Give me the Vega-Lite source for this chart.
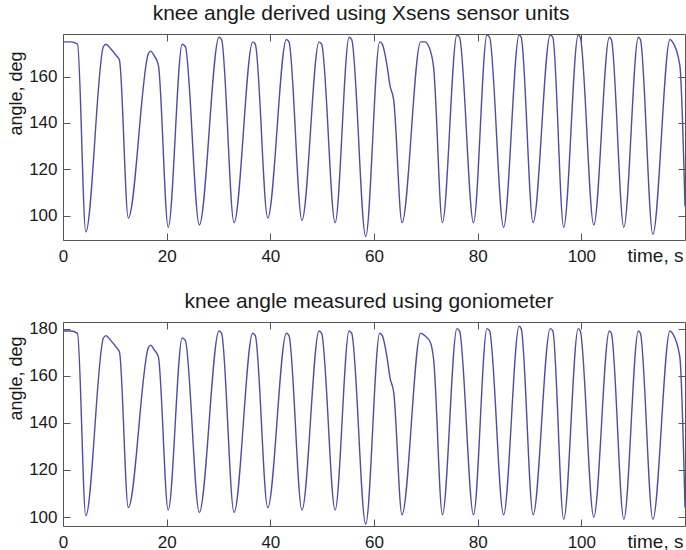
{
  "$schema": "https://vega.github.io/schema/vega-lite/v6.json",
  "background": "white",
  "padding": {"left": 6, "top": 2, "right": 0, "bottom": 0},
  "datasets": {
    "knee": [
      {"t":0,"a":175,"g":179},{"t":1.5,"a":175,"g":179},{"t":2.8,"a":174,"g":178},
      {"t":4.4,"a":93,"g":100.5},
      {"t":7.8,"a":173,"g":176},{"t":8.3,"a":174,"g":177},{"t":9.2,"a":172,"g":175},{"t":10.3,"a":169,"g":172},{"t":10.9,"a":167,"g":170},
      {"t":12.6,"a":99,"g":104},
      {"t":16.5,"a":170,"g":172},{"t":16.9,"a":171,"g":173},{"t":17.6,"a":169,"g":171},{"t":18.4,"a":165,"g":168},
      {"t":20.3,"a":95,"g":103},
      {"t":23.0,"a":174,"g":176},{"t":23.6,"a":173,"g":175},
      {"t":26.3,"a":96,"g":102},
      {"t":30.1,"a":177,"g":179},{"t":30.6,"a":176,"g":178},
      {"t":33.0,"a":97,"g":102},
      {"t":36.6,"a":175,"g":178},{"t":37.1,"a":174,"g":177},
      {"t":39.5,"a":99,"g":104},
      {"t":43.1,"a":176,"g":178},{"t":43.6,"a":175,"g":177},
      {"t":46.1,"a":98,"g":103},
      {"t":49.4,"a":175,"g":179},{"t":49.9,"a":174,"g":178},
      {"t":52.5,"a":97,"g":103},
      {"t":55.2,"a":177,"g":179},{"t":55.7,"a":176,"g":178},
      {"t":58.4,"a":91,"g":97},
      {"t":61.1,"a":175,"g":178},{"t":61.6,"a":174,"g":177},{"t":62.5,"a":165,"g":168},{"t":63.1,"a":156,"g":159},{"t":63.8,"a":150,"g":153},
      {"t":65.4,"a":97,"g":101},
      {"t":69.0,"a":175,"g":178},{"t":69.8,"a":175,"g":177},{"t":70.9,"a":171,"g":174},{"t":71.5,"a":164,"g":167},
      {"t":73.2,"a":97,"g":101},
      {"t":76.0,"a":178,"g":180},{"t":76.5,"a":177,"g":179},
      {"t":79.2,"a":97,"g":101},
      {"t":81.8,"a":178,"g":180},{"t":82.3,"a":177,"g":179},
      {"t":85.0,"a":95,"g":101},
      {"t":88.0,"a":178,"g":181},{"t":88.4,"a":177,"g":180},
      {"t":90.7,"a":97,"g":101},
      {"t":94.0,"a":178,"g":180},{"t":94.5,"a":177,"g":179},
      {"t":96.6,"a":95,"g":99},
      {"t":99.4,"a":178,"g":180},{"t":99.8,"a":177,"g":179},
      {"t":102.4,"a":96,"g":100},
      {"t":105.4,"a":177,"g":179},{"t":105.8,"a":176,"g":178},
      {"t":108.2,"a":95,"g":99},
      {"t":111.0,"a":177,"g":179},{"t":111.4,"a":176,"g":178},
      {"t":113.8,"a":92,"g":99},
      {"t":117.1,"a":176,"g":179},{"t":117.6,"a":175,"g":178},{"t":119.0,"a":165,"g":168},
      {"t":120,"a":104,"g":104}
    ]
  },
  "data": {"name": "knee"},
  "spacing": 24,
  "vconcat": [
    {
      "width": 622,
      "height": 206,
      "title": {"text": "knee angle derived using Xsens sensor units", "dx": -13},
      "layer": [
        {
          "mark": {"type": "line", "color": "#4d4da8", "strokeWidth": 1.4, "interpolate": "monotone"},
          "encoding": {
            "x": {"field": "t", "type": "quantitative", "scale": {"domain": [0, 120], "nice": false, "zero": false},
                  "axis": {"orient": "bottom", "values": [0, 20, 40, 60, 80, 100], "title": "time, s", "titleX": 620, "titleY": 21, "titleAlign": "right", "titleBaseline": "alphabetic", "titleFontSize": 19}},
            "y": {"field": "a", "type": "quantitative", "scale": {"domain": [89.5, 178.4], "nice": false, "zero": false},
                  "axis": {"orient": "left", "values": [100, 120, 140, 160], "title": "angle, deg", "titleX": -42, "titleY": 59, "titleAlign": "center", "titleBaseline": "alphabetic", "titleFontSize": 18}}
          }
        },
        {
          "mark": {"type": "line", "opacity": 0},
          "encoding": {
            "x": {"field": "t", "type": "quantitative", "scale": {"domain": [0, 120], "nice": false, "zero": false},
                  "axis": {"orient": "top", "values": [0, 20, 40, 60, 80, 100], "labels": false, "title": null}},
            "y": {"field": "a", "type": "quantitative", "scale": {"domain": [89.5, 178.4], "nice": false, "zero": false},
                  "axis": {"orient": "right", "values": [100, 120, 140, 160], "labels": false, "title": null}}
          }
        }
      ],
      "resolve": {"axis": {"x": "independent", "y": "independent"}}
    },
    {
      "width": 622,
      "height": 204,
      "title": {"text": "knee angle measured using goniometer", "dx": -5},
      "layer": [
        {
          "mark": {"type": "line", "color": "#4d4da8", "strokeWidth": 1.4, "interpolate": "monotone"},
          "encoding": {
            "x": {"field": "t", "type": "quantitative", "scale": {"domain": [0, 120], "nice": false, "zero": false},
                  "axis": {"orient": "bottom", "values": [0, 20, 40, 60, 80, 100], "title": "time, s", "titleX": 620, "titleY": 21, "titleAlign": "right", "titleBaseline": "alphabetic", "titleFontSize": 19}},
            "y": {"field": "g", "type": "quantitative", "scale": {"domain": [96.2, 182.8], "nice": false, "zero": false},
                  "axis": {"orient": "left", "values": [100, 120, 140, 160, 180], "title": "angle, deg", "titleX": -42, "titleY": 56, "titleAlign": "center", "titleBaseline": "alphabetic", "titleFontSize": 18}}
          }
        },
        {
          "mark": {"type": "line", "opacity": 0},
          "encoding": {
            "x": {"field": "t", "type": "quantitative", "scale": {"domain": [0, 120], "nice": false, "zero": false},
                  "axis": {"orient": "top", "values": [0, 20, 40, 60, 80, 100], "labels": false, "title": null}},
            "y": {"field": "g", "type": "quantitative", "scale": {"domain": [96.2, 182.8], "nice": false, "zero": false},
                  "axis": {"orient": "right", "values": [100, 120, 140, 160, 180], "labels": false, "title": null}}
          }
        }
      ],
      "resolve": {"axis": {"x": "independent", "y": "independent"}}
    }
  ],
  "config": {
    "font": "Liberation Sans",
    "view": {"stroke": "#555555", "strokeWidth": 1},
    "axis": {
      "domain": false, "grid": false,
      "tickColor": "#555555", "tickSize": -7, "tickWidth": 1,
      "labelFont": "Liberation Sans", "labelFontSize": 17, "labelColor": "#1a1a1a",
      "labelFlush": false, "labelOverlap": false,
      "titleFont": "Liberation Sans", "titleFontWeight": "normal", "titleColor": "#1a1a1a"
    },
    "axisX": {"labelPadding": 15},
    "axisY": {"labelPadding": 13},
    "title": {"font": "Liberation Sans", "fontSize": 21, "fontWeight": "normal", "color": "#1a1a1a", "anchor": "middle", "baseline": "alphabetic", "offset": 8}
  }
}
